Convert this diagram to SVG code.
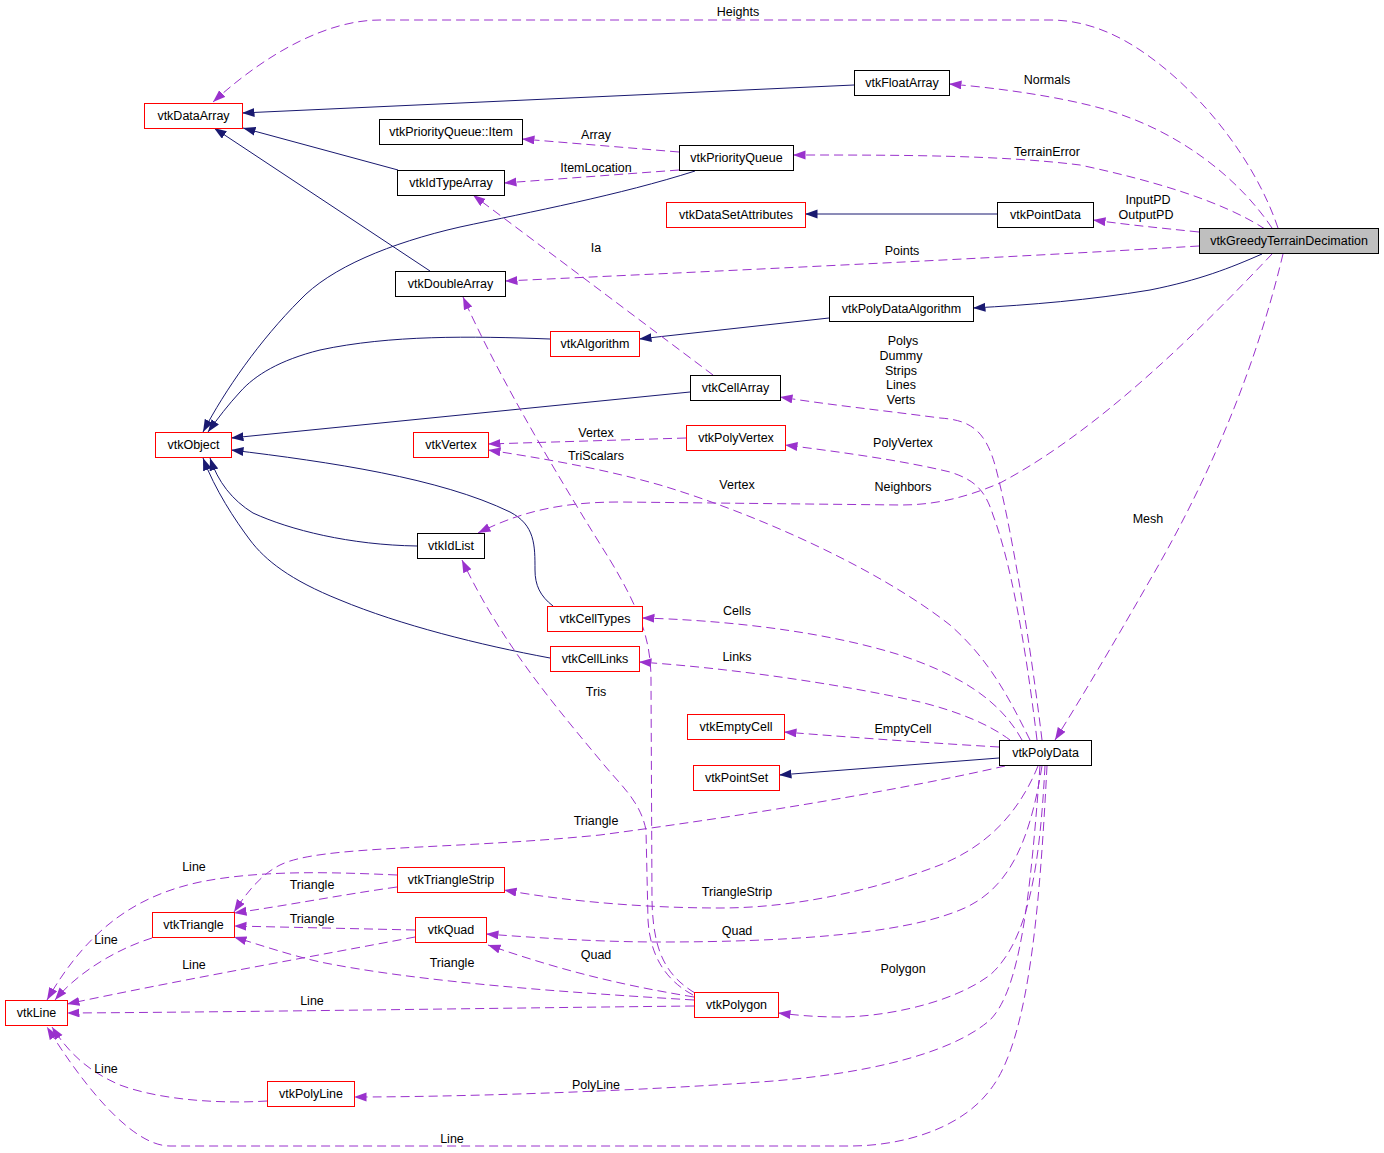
<svg xmlns="http://www.w3.org/2000/svg" width="1384" height="1153" viewBox="0 0 1384 1153">
<style>
text{font-family:"Liberation Sans",Arial,sans-serif;font-size:12.5px;fill:#000}
.n text{text-anchor:middle}
.lb{text-anchor:middle}
rect{fill:#fff;stroke:#000;stroke-width:1}
rect.r{stroke:#ff0000}
rect.g{fill:#bfbfbf}
.s{fill:none;stroke:#191970;stroke-width:1;marker-end:url(#ab)}
.d{fill:none;stroke:#9a32cd;stroke-width:1;stroke-dasharray:9,5;marker-end:url(#ap)}
</style>
<defs>
<marker id="ab" markerUnits="userSpaceOnUse" markerWidth="14" markerHeight="10" refX="12.5" refY="4.5" orient="auto"><path d="M0,0 L12.5,4.5 L0,9 z" fill="#191970"/></marker>
<marker id="ap" markerUnits="userSpaceOnUse" markerWidth="14" markerHeight="10" refX="12.5" refY="4.5" orient="auto"><path d="M0,0 L12.5,4.5 L0,9 z" fill="#9a32cd"/></marker>
</defs>
<rect x="0" y="0" width="1384" height="1153" style="fill:#fff;stroke:none"/>
<g id="edges">
<path class="s" d="M854,85 L242,113"/>
<path class="s" d="M398,170 L243,128"/>
<path class="s" d="M430,271 L214,128"/>
<path class="s" d="M695,171 C 620,195 530,212 460,227 C 390,243 330,268 300,300 C 260,340 225,390 203,432"/>
<path class="s" d="M550,339 C 470,336 390,335 320,350 C 280,360 255,375 240,392 C 228,405 218,418 208,432"/>
<path class="s" d="M690,392 L231,438"/>
<path class="s" d="M553,606 C 540,596 535,585 535,570 C 535,545 535,525 510,512 C 440,478 330,462 231,450"/>
<path class="s" d="M417,546 C 350,545 290,530 253,513 C 232,500 218,482 210,458"/>
<path class="s" d="M550,658 C 480,645 400,625 340,600 C 290,580 265,560 250,540 C 235,520 215,490 203,458"/>
<path class="s" d="M829,318 L639,339"/>
<path class="s" d="M1262,254 C 1230,268 1200,280 1150,290 C 1090,300 1030,305 973,308"/>
<path class="s" d="M997,214 L805,214"/>
<path class="s" d="M999,758 L779,775"/>
<path class="d" d="M1278,228 C 1255,160 1200,90 1140,50 C 1110,30 1080,20 1050,20 L 380,20 C 330,20 270,50 213,102"/>
<path class="d" d="M1272,228 C 1240,180 1180,130 1100,108 C 1060,97 1000,88 949,84"/>
<path class="d" d="M1265,229 C 1220,200 1150,180 1080,165 C 1000,155 900,155 793,155"/>
<path class="d" d="M1199,232 C 1160,228 1130,225 1093,220"/>
<path class="d" d="M1199,246 C 1000,258 700,272 505,281"/>
<path class="d" d="M1283,254 C 1260,350 1220,460 1150,580 C 1110,650 1080,700 1055,740"/>
<path class="d" d="M1272,254 C 1200,330 1100,430 1000,483 C 960,500 930,505 900,505 L 620,502 C 560,502 520,512 478,533"/>
<path class="d" d="M1042,740 C 1030,640 1010,520 995,465 C 985,430 970,420 940,418 C 880,410 830,405 780,397"/>
<path class="d" d="M1037,740 C 1025,640 1010,560 993,515 C 985,490 975,480 950,472 C 900,460 840,452 785,445"/>
<path class="d" d="M686,438 L488,444"/>
<path class="d" d="M1030,740 C 1010,700 990,660 950,625 C 880,570 760,515 660,485 C 600,468 540,458 488,450"/>
<path class="d" d="M713,375 L473,195"/>
<path class="d" d="M679,152 L522,139"/>
<path class="d" d="M679,170 L504,183"/>
<path class="d" d="M1022,740 C 1000,700 960,675 900,655 C 820,630 720,620 642,618"/>
<path class="d" d="M1010,740 C 990,725 960,712 920,702 C 840,684 730,668 639,662"/>
<path class="d" d="M999,747 C 930,743 860,738 784,732"/>
<path class="d" d="M1005,766 C 900,790 750,815 600,835 C 450,850 320,845 280,865 C 260,875 245,895 234,912"/>
<path class="d" d="M1038,766 C 1020,810 990,845 940,865 C 880,888 800,908 720,908 C 650,908 570,902 504,890"/>
<path class="d" d="M1042,766 C 1030,840 1010,890 960,910 C 900,935 780,942 660,942 C 600,942 540,938 486,934"/>
<path class="d" d="M1045,766 C 1040,860 1030,940 990,975 C 950,1005 880,1017 840,1017 C 815,1017 795,1015 778,1013"/>
<path class="d" d="M1040,766 C 1030,900 1020,990 990,1020 C 950,1055 860,1075 760,1082 C 620,1092 450,1097 354,1097"/>
<path class="d" d="M1047,766 C 1040,900 1030,1040 990,1090 C 960,1130 900,1146 850,1146 L 170,1146 C 130,1146 80,1080 47,1027"/>
<path class="d" d="M267,1101 C 220,1104 160,1100 120,1085 C 90,1072 70,1055 52,1027"/>
<path class="d" d="M694,1006 C 500,1008 250,1012 67,1013"/>
<path class="d" d="M694,1000 C 560,992 420,982 320,962 C 290,955 260,945 234,937"/>
<path class="d" d="M694,997 C 620,985 560,970 488,945"/>
<path class="d" d="M693,995 C 665,980 650,955 648,920 L 646,830 C 640,800 620,785 600,760 C 550,700 500,640 462,560"/>
<path class="d" d="M695,993 C 665,975 653,950 652,900 L 651,680 C 651,640 640,610 610,560 C 560,480 500,380 463,297"/>
<path class="d" d="M397,887 C 340,895 290,905 234,913"/>
<path class="d" d="M397,875 C 330,872 260,870 200,882 C 140,895 90,925 47,1000"/>
<path class="d" d="M152,938 C 120,948 80,970 55,1000"/>
<path class="d" d="M415,930 L234,926"/>
<path class="d" d="M415,937 C 320,955 180,980 67,1004"/>
</g>
<g id="labels">
<text class="lb" x="738" y="15.5">Heights</text>
<text class="lb" x="1047" y="83.5">Normals</text>
<text class="lb" x="596" y="138.5">Array</text>
<text class="lb" x="1047" y="155.5">TerrainError</text>
<text class="lb" x="596" y="171.5">ItemLocation</text>
<text class="lb" x="1148" y="203.5">InputPD</text>
<text class="lb" x="1146" y="218.5">OutputPD</text>
<text class="lb" x="596" y="251.5">Ia</text>
<text class="lb" x="902" y="254.5">Points</text>
<text class="lb" x="903" y="344.5">Polys</text>
<text class="lb" x="901" y="359.5">Dummy</text>
<text class="lb" x="901" y="374.5">Strips</text>
<text class="lb" x="901" y="388.5">Lines</text>
<text class="lb" x="901" y="403.5">Verts</text>
<text class="lb" x="596" y="436.5">Vertex</text>
<text class="lb" x="596" y="459.5">TriScalars</text>
<text class="lb" x="903" y="446.5">PolyVertex</text>
<text class="lb" x="737" y="488.5">Vertex</text>
<text class="lb" x="903" y="490.5">Neighbors</text>
<text class="lb" x="1148" y="522.5">Mesh</text>
<text class="lb" x="737" y="614.5">Cells</text>
<text class="lb" x="737" y="660.5">Links</text>
<text class="lb" x="596" y="695.5">Tris</text>
<text class="lb" x="903" y="732.5">EmptyCell</text>
<text class="lb" x="596" y="824.5">Triangle</text>
<text class="lb" x="194" y="870.5">Line</text>
<text class="lb" x="312" y="888.5">Triangle</text>
<text class="lb" x="737" y="895.5">TriangleStrip</text>
<text class="lb" x="106" y="943.5">Line</text>
<text class="lb" x="312" y="922.5">Triangle</text>
<text class="lb" x="737" y="934.5">Quad</text>
<text class="lb" x="596" y="958.5">Quad</text>
<text class="lb" x="194" y="968.5">Line</text>
<text class="lb" x="452" y="966.5">Triangle</text>
<text class="lb" x="903" y="972.5">Polygon</text>
<text class="lb" x="312" y="1004.5">Line</text>
<text class="lb" x="106" y="1072.5">Line</text>
<text class="lb" x="596" y="1088.5">PolyLine</text>
<text class="lb" x="452" y="1142.5">Line</text>
</g>
<g id="nodes">
<g id="n_vtkGreedyTerrainDecimation" class="n"><rect class="g" x="1199.5" y="228.5" width="179" height="25"/><text x="1289" y="245">vtkGreedyTerrainDecimation</text></g>
<g id="n_vtkDataArray" class="n"><rect class="r" x="144.5" y="103.5" width="98" height="25"/><text x="193.5" y="120">vtkDataArray</text></g>
<g id="n_vtkFloatArray" class="n"><rect x="854.5" y="70.5" width="95" height="25"/><text x="902" y="87">vtkFloatArray</text></g>
<g id="n_vtkPriorityQueueItem" class="n"><rect x="379.5" y="119.5" width="143" height="25"/><text x="451" y="136">vtkPriorityQueue::Item</text></g>
<g id="n_vtkPriorityQueue" class="n"><rect x="679.5" y="145.5" width="114" height="25"/><text x="736.5" y="162">vtkPriorityQueue</text></g>
<g id="n_vtkIdTypeArray" class="n"><rect x="397.5" y="170.5" width="107" height="25"/><text x="451" y="187">vtkIdTypeArray</text></g>
<g id="n_vtkDataSetAttributes" class="n"><rect class="r" x="666.5" y="202.5" width="139" height="25"/><text x="736" y="219">vtkDataSetAttributes</text></g>
<g id="n_vtkPointData" class="n"><rect x="997.5" y="202.5" width="96" height="25"/><text x="1045.5" y="219">vtkPointData</text></g>
<g id="n_vtkDoubleArray" class="n"><rect x="395.5" y="271.5" width="110" height="25"/><text x="450.5" y="288">vtkDoubleArray</text></g>
<g id="n_vtkPolyDataAlgorithm" class="n"><rect x="829.5" y="296.5" width="144" height="25"/><text x="901.5" y="313">vtkPolyDataAlgorithm</text></g>
<g id="n_vtkAlgorithm" class="n"><rect class="r" x="550.5" y="331.5" width="89" height="25"/><text x="595" y="348">vtkAlgorithm</text></g>
<g id="n_vtkCellArray" class="n"><rect x="690.5" y="375.5" width="90" height="25"/><text x="735.5" y="392">vtkCellArray</text></g>
<g id="n_vtkObject" class="n"><rect class="r" x="155.5" y="432.5" width="76" height="25"/><text x="193.5" y="449">vtkObject</text></g>
<g id="n_vtkVertex" class="n"><rect class="r" x="413.5" y="432.5" width="75" height="25"/><text x="451" y="449">vtkVertex</text></g>
<g id="n_vtkPolyVertex" class="n"><rect class="r" x="686.5" y="425.5" width="99" height="25"/><text x="736" y="442">vtkPolyVertex</text></g>
<g id="n_vtkIdList" class="n"><rect x="417.5" y="533.5" width="67" height="25"/><text x="451" y="550">vtkIdList</text></g>
<g id="n_vtkCellTypes" class="n"><rect class="r" x="547.5" y="606.5" width="95" height="25"/><text x="595" y="623">vtkCellTypes</text></g>
<g id="n_vtkCellLinks" class="n"><rect class="r" x="550.5" y="646.5" width="89" height="25"/><text x="595" y="663">vtkCellLinks</text></g>
<g id="n_vtkEmptyCell" class="n"><rect class="r" x="687.5" y="714.5" width="97" height="25"/><text x="736" y="731">vtkEmptyCell</text></g>
<g id="n_vtkPointSet" class="n"><rect class="r" x="693.5" y="765.5" width="86" height="25"/><text x="736.5" y="782">vtkPointSet</text></g>
<g id="n_vtkPolyData" class="n"><rect x="999.5" y="740.5" width="92" height="25"/><text x="1045.5" y="757">vtkPolyData</text></g>
<g id="n_vtkTriangleStrip" class="n"><rect class="r" x="397.5" y="867.5" width="107" height="25"/><text x="451" y="884">vtkTriangleStrip</text></g>
<g id="n_vtkTriangle" class="n"><rect class="r" x="152.5" y="912.5" width="82" height="25"/><text x="193.5" y="929">vtkTriangle</text></g>
<g id="n_vtkQuad" class="n"><rect class="r" x="415.5" y="917.5" width="71" height="25"/><text x="451" y="934">vtkQuad</text></g>
<g id="n_vtkLine" class="n"><rect class="r" x="5.5" y="1000.5" width="62" height="25"/><text x="36.5" y="1017">vtkLine</text></g>
<g id="n_vtkPolygon" class="n"><rect class="r" x="694.5" y="992.5" width="84" height="25"/><text x="736.5" y="1009">vtkPolygon</text></g>
<g id="n_vtkPolyLine" class="n"><rect class="r" x="267.5" y="1081.5" width="87" height="25"/><text x="311" y="1098">vtkPolyLine</text></g>
</g>
</svg>
